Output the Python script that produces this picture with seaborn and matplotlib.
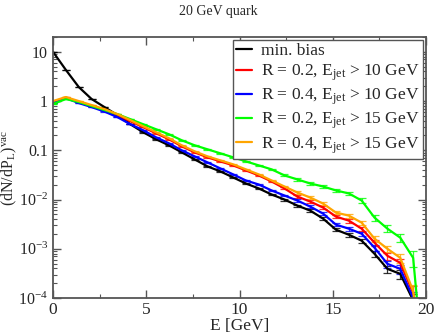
import numpy as np
import pandas as pd
import matplotlib
matplotlib.use("Agg")
import matplotlib.pyplot as plt
import matplotlib.ticker as mticker
import seaborn as sns

# ---------------- data ----------------
energy = [0.0, 0.69, 1.38, 2.07, 2.76, 3.45, 4.14, 4.83, 5.52, 6.21,
          6.90, 7.59, 8.28, 8.97, 9.66, 10.34, 11.03, 11.72, 12.41, 13.10,
          13.79, 14.48, 15.17, 15.86, 16.55, 17.24, 17.93, 18.62, 19.31, 20.0]

min_bias = [10.0, 4.29, 1.93, 1.099, 0.754, 0.518, 0.339, 0.233, 0.168, 0.1265,
            0.0910, 0.0655, 0.0472, 0.0373, 0.0281, 0.0212, 0.0168, 0.01265, 0.0100, 0.00754,
            0.00596, 0.00410, 0.00244, 0.00193, 0.00146, 0.00079, 0.000391, 0.000309, 9e-5, 1e-6]

r02_e10 = [0.954, 1.179, 0.954, 0.791, 0.655, 0.518, 0.391, 0.295, 0.222, 0.168,
           0.1207, 0.0910, 0.0720, 0.0596, 0.0494, 0.0391, 0.0309, 0.0233, 0.0168, 0.0115,
           0.00910, 0.00687, 0.00450, 0.00373, 0.00256, 0.00133, 0.00072, 0.000518, 1.27e-4, 1e-6]

r04_e10 = [0.910, 1.151, 0.910, 0.754, 0.611, 0.472, 0.339, 0.256, 0.184, 0.139,
           0.100, 0.0754, 0.0569, 0.0429, 0.0324, 0.0244, 0.0202, 0.0153, 0.01207, 0.00954,
           0.00720, 0.00518, 0.00309, 0.00256, 0.00202, 0.00105, 0.000494, 0.000391, 1.0e-4, 1e-6]

r02_e15 = [0.869, 1.099, 0.954, 0.791, 0.655, 0.543, 0.429, 0.339, 0.268, 0.212,
           0.160, 0.1265, 0.1048, 0.0869, 0.0720, 0.0596, 0.0494, 0.0410, 0.0309, 0.0256,
           0.0212, 0.0184, 0.0153, 0.0133, 0.00954, 0.00429, 0.00256, 0.00168, 0.000655, 1e-6]

r04_e15 = [1.0, 1.207, 1.0, 0.829, 0.687, 0.543, 0.410, 0.309, 0.233, 0.176,
           0.1265, 0.0954, 0.0754, 0.0625, 0.0518, 0.0410, 0.0324, 0.0244, 0.0184, 0.0139,
           0.01099, 0.00829, 0.00543, 0.00472, 0.00339, 0.00160, 0.00100, 0.000655, 1.39e-4, 1e-6]

rel_err = [0.01, 0.01, 0.01, 0.01, 0.01, 0.01, 0.01, 0.015, 0.015, 0.02,
           0.02, 0.02, 0.025, 0.025, 0.03, 0.03, 0.035, 0.04, 0.045, 0.05,
           0.06, 0.07, 0.08, 0.09, 0.10, 0.13, 0.16, 0.20, 0.35, 0.0]

labels = ["min. bias",
          r"R = 0.2, E$_{\rm jet}$ > 10 GeV",
          r"R = 0.4, E$_{\rm jet}$ > 10 GeV",
          r"R = 0.2, E$_{\rm jet}$ > 15 GeV",
          r"R = 0.4, E$_{\rm jet}$ > 15 GeV"]
series = [min_bias, r02_e10, r04_e10, r02_e15, r04_e15]
colors = ["#000000", "#ff0000", "#0000ff", "#00ff00", "#ffa500"]

title = "20 GeV quark"
x_ticks = [0, 5, 10, 15, 20]
y_ticks = [1e-4, 1e-3, 1e-2, 0.1, 1, 10]
y_ticklabels = [r"$10^{-4}$", r"$10^{-3}$", r"$10^{-2}$", "0.1", "1", "10"]

# ---------------- style ----------------
sns.set_style("ticks")
plt.rcParams["font.family"] = ["Liberation Serif", "DejaVu Serif"]
plt.rcParams["mathtext.fontset"] = "custom"
plt.rcParams["mathtext.rm"] = "Liberation Serif"
plt.rcParams["mathtext.it"] = "Liberation Serif:italic"
plt.rcParams["mathtext.bf"] = "Liberation Serif:bold"

df = pd.concat([pd.DataFrame({"E": energy, "y": s, "series": lab})
                for s, lab in zip(series, labels)], ignore_index=True)

fig = plt.figure(figsize=(4.36, 3.33), dpi=100)
ax = fig.add_axes([53 / 436, 1 - 298 / 333, 373 / 436, 261 / 333])

for s, lab, c in zip(series, labels, colors):
    s = np.asarray(s)
    err = s * np.asarray(rel_err)
    ax.errorbar(energy, s, yerr=err, fmt="none", ecolor=c, elinewidth=0.9,
                capsize=3, capthick=0.9, alpha=0.8)

sns.lineplot(data=df, x="E", y="y", hue="series", hue_order=labels,
             palette=dict(zip(labels, colors)), linewidth=1.6, ax=ax,
             sort=False, estimator=None)

ax.set_yscale("log")
ax.set_xlim(0, 20)
ax.set_ylim(1e-4, 20)

ax.set_xticks(x_ticks)
ax.set_xticklabels([str(t) for t in x_ticks])
ax.xaxis.set_minor_locator(mticker.MultipleLocator(2.5))
ax.set_yticks(y_ticks)
ax.set_yticklabels(y_ticklabels)
ax.yaxis.set_minor_locator(mticker.LogLocator(base=10, subs=np.arange(2, 10), numticks=20))
ax.yaxis.set_minor_formatter(mticker.NullFormatter())

frame_c = "#555555"
for sp in ax.spines.values():
    sp.set_color(frame_c)
    sp.set_linewidth(1.3)
ax.tick_params(which="both", direction="in", top=True, right=True, color=frame_c)
ax.tick_params(axis="x", which="both", pad=3, labelsize=12.5)
ax.tick_params(axis="y", which="both", pad=3.5, labelsize=11.5)
ax.tick_params(which="major", length=6, width=1.0)
ax.tick_params(which="minor", length=3, width=0.8)

ax.set_xlabel("E [GeV]", fontsize=12.5, labelpad=0)
ax.set_ylabel(r"(dN/dP$_{\rm L}$)$^{\rm vac}$", fontsize=11.5)
ax.yaxis.set_label_coords(-0.09, 0.5)
fig.text(0.5, 1 - 11 / 333, title, ha="center", va="center", fontsize=10)

leg = ax.legend(loc="upper right", bbox_to_anchor=(0.991, 0.99), fontsize=12.5,
                frameon=True, fancybox=False, handlelength=0.9, handletextpad=0.5,
                borderpad=0.2, labelspacing=0.2, borderaxespad=0.0)
leg.get_frame().set_edgecolor(frame_c)
leg.get_frame().set_linewidth(1.0)
leg.get_frame().set_alpha(1.0)
for h in leg.get_lines():
    h.set_linewidth(1.6)

fig.savefig("out.png", dpi=100)
